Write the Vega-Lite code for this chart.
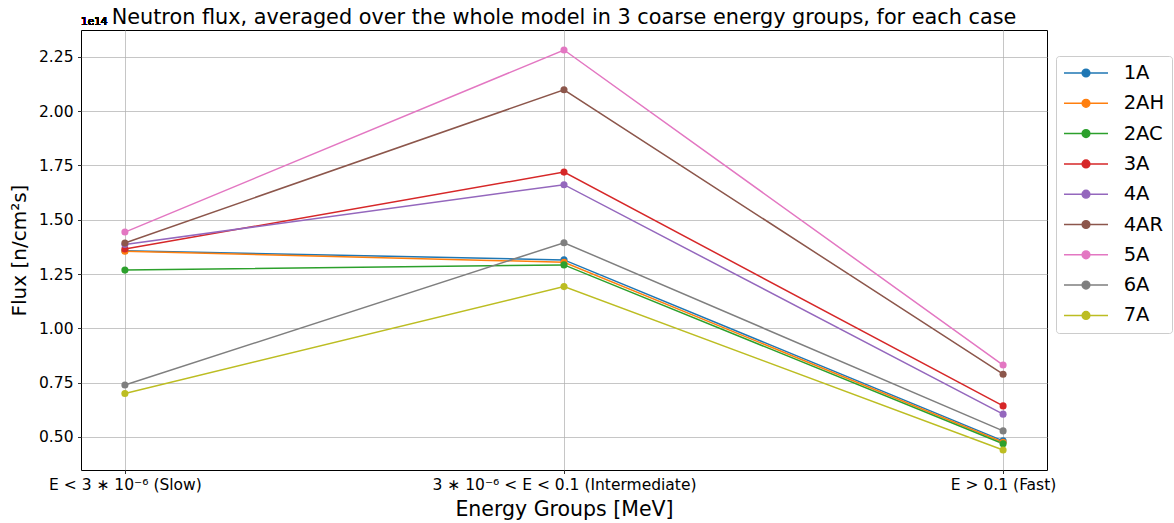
{
  "$schema": "https://vega.github.io/schema/vega-lite/v6.json",
  "autosize": {"type": "none"},
  "padding": {"left": 81, "top": 30, "right": 127, "bottom": 53},
  "width": 966,
  "height": 440,
  "background": "white",
  "config": {
    "font": "DejaVu Sans",
    "view": {"stroke": "black", "strokeWidth": 1},
    "axis": {
      "domain": false,
      "tickColor": "black",
      "tickSize": 3.5,
      "tickWidth": 0.8,
      "labelColor": "black",
      "labelFont": "DejaVu Sans",
      "labelFontSize": 15.5,
      "labelPadding": 4.5,
      "labelLimit": 0,
      "titleFont": "DejaVu Sans",
      "titleFontSize": 20.5,
      "titleFontWeight": "normal",
      "titleColor": "black",
      "gridColor": "#b0b0b0",
      "gridWidth": 0.8,
      "gridOpacity": 0.9
    }
  },
  "title": {
    "text": "Neutron flux, averaged over the whole model in 3 coarse energy groups, for each case",
    "font": "DejaVu Sans",
    "fontSize": 20.8,
    "fontWeight": "normal",
    "color": "black",
    "anchor": "middle",
    "offset": -12
  },
  "data": {
    "values": [
      {"case": "1A", "group": 0, "flux": 1.357e14},
      {"case": "1A", "group": 1, "flux": 1.315e14},
      {"case": "1A", "group": 2, "flux": 0.482e14},
      {"case": "2AH", "group": 0, "flux": 1.355e14},
      {"case": "2AH", "group": 1, "flux": 1.304e14},
      {"case": "2AH", "group": 2, "flux": 0.476e14},
      {"case": "2AC", "group": 0, "flux": 1.268e14},
      {"case": "2AC", "group": 1, "flux": 1.292e14},
      {"case": "2AC", "group": 2, "flux": 0.469e14},
      {"case": "3A", "group": 0, "flux": 1.365e14},
      {"case": "3A", "group": 1, "flux": 1.719e14},
      {"case": "3A", "group": 2, "flux": 0.643e14},
      {"case": "4A", "group": 0, "flux": 1.386e14},
      {"case": "4A", "group": 1, "flux": 1.661e14},
      {"case": "4A", "group": 2, "flux": 0.605e14},
      {"case": "4AR", "group": 0, "flux": 1.393e14},
      {"case": "4AR", "group": 1, "flux": 2.098e14},
      {"case": "4AR", "group": 2, "flux": 0.789e14},
      {"case": "5A", "group": 0, "flux": 1.443e14},
      {"case": "5A", "group": 1, "flux": 2.281e14},
      {"case": "5A", "group": 2, "flux": 0.831e14},
      {"case": "6A", "group": 0, "flux": 0.739e14},
      {"case": "6A", "group": 1, "flux": 1.394e14},
      {"case": "6A", "group": 2, "flux": 0.528e14},
      {"case": "7A", "group": 0, "flux": 0.700e14},
      {"case": "7A", "group": 1, "flux": 1.192e14},
      {"case": "7A", "group": 2, "flux": 0.440e14}
    ]
  },
  "encoding": {
    "x": {
      "field": "group",
      "type": "quantitative",
      "scale": {"domain": [-0.1, 2.1], "nice": false, "zero": false},
      "axis": {
        "values": [0, 1, 2],
        "grid": true,
        "labelExpr": "datum.value == 0 ? 'E < 3 ∗ 10⁻⁶ (Slow)' : datum.value == 1 ? '3 ∗ 10⁻⁶ < E < 0.1 (Intermediate)' : 'E > 0.1 (Fast)'",
        "title": "Energy Groups [MeV]",
        "titlePadding": 6,
        "labelPadding": 4
      }
    },
    "y": {
      "field": "flux",
      "type": "quantitative",
      "scale": {"domain": [0.348e14, 2.373e14], "nice": false, "zero": false},
      "axis": {
        "values": [0.5e14, 0.75e14, 1.0e14, 1.25e14, 1.5e14, 1.75e14, 2.0e14, 2.25e14],
        "grid": true,
        "labelExpr": "format(datum.value / 1e14, '.2f')",
        "title": "Flux [n/cm²s]",
        "titleFontSize": 20,
        "titlePadding": 9
      }
    },
    "color": {
      "field": "case",
      "type": "nominal",
      "sort": ["1A", "2AH", "2AC", "3A", "4A", "4AR", "5A", "6A", "7A"],
      "scale": {
        "domain": ["1A", "2AH", "2AC", "3A", "4A", "4AR", "5A", "6A", "7A"],
        "range": ["#1f77b4", "#ff7f0e", "#2ca02c", "#d62728", "#9467bd", "#8c564b", "#e377c2", "#7f7f7f", "#bcbd22"]
      },
      "legend": {
        "title": null,
        "orient": "none",
        "legendX": 975,
        "legendY": 26,
        "labelFontSize": 19.5,
        "labelFont": "DejaVu Sans",
        "labelColor": "black",
        "symbolType": "M-1,0H1M-0.175,0A0.175,0.175 0 1,1 0.175,0A0.175,0.175 0 1,1 -0.175,0Z",
        "symbolSize": 1936,
        "symbolStrokeWidth": 1.5,
        "labelOffset": 14.7,
        "rowPadding": 10.3,
        "clipHeight": 20,
        "padding": 7,
        "strokeColor": "#cccccc",
        "fillColor": "white",
        "cornerRadius": 3
      }
    }
  },
  "layer": [
    {"mark": {"type": "line", "strokeWidth": 1.5}},
    {"mark": {"type": "point", "filled": true, "size": 50, "opacity": 1}},
    {
      "mark": {"type": "text", "align": "left", "baseline": "bottom", "dy": -3, "fontSize": 10.5, "fontWeight": "normal", "font": "DejaVu Sans", "color": "black"},
      "encoding": {
        "x": {"datum": -0.1, "type": "quantitative"},
        "y": {"datum": 2.373e14, "type": "quantitative"},
        "text": {"value": "1e14"},
        "color": {"value": "black"}
      }
    }
  ]
}
